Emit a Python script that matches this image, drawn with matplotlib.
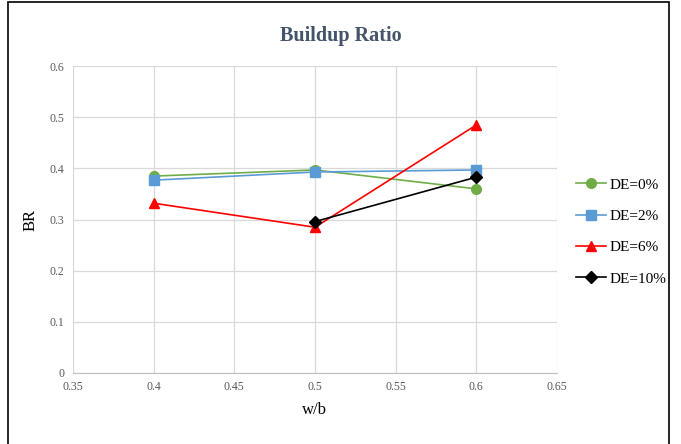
import matplotlib
matplotlib.use("Agg")
import matplotlib.pyplot as plt
from matplotlib.patches import Rectangle

# data
wb = [0.4, 0.5, 0.6]
br_de0 = [0.385, 0.397, 0.360]
br_de2 = [0.377, 0.393, 0.397]
br_de6 = [0.332, 0.285, 0.485]
wb_de10 = [0.5, 0.6]
br_de10 = [0.296, 0.383]

x_ticks = [0.35, 0.4, 0.45, 0.5, 0.55, 0.6, 0.65]
y_ticks = [0, 0.1, 0.2, 0.3, 0.4, 0.5, 0.6]

plt.rcParams["font.family"] = ["Liberation Serif", "DejaVu Serif"]

fig = plt.figure(figsize=(6.81, 4.44), dpi=100)
ax = fig.add_axes([0.107, 0.160, 0.711, 0.691])

series = [
    (wb, br_de0, "#70AD47", "o", 7, "DE=0%"),
    (wb, br_de2, "#5B9BD5", "s", 7, "DE=2%"),
    (wb, br_de6, "#FF0000", "^", 7, "DE=6%"),
    (wb_de10, br_de10, "#000000", "D", 6, "DE=10%"),
]
for xs, ys, c, m, ms, lab in series:
    ax.plot(xs, ys, color=c, marker=m, markersize=ms, linewidth=1.2,
            label=lab, zorder=3)

ax.set_xlim(0.35, 0.65)
ax.set_ylim(0, 0.6)
ax.set_xticks(x_ticks)
ax.set_xticklabels([f"{v:g}" for v in x_ticks])
ax.set_yticks(y_ticks)
ax.set_yticklabels([f"{v:g}" for v in y_ticks])
ax.grid(color="#D9D9D9", linewidth=0.9, zorder=0)
for s in ["top", "right", "left"]:
    ax.spines[s].set_visible(False)
ax.spines["bottom"].set_color("#BFBFBF")
ax.tick_params(length=0, labelsize=8.5, colors="#595959", pad=6)

ax.set_xlabel("w/b", fontsize=12, labelpad=6)
ax.set_ylabel("BR", fontsize=12, labelpad=8)
fig.text(0.5, 0.92, "Buildup Ratio", ha="center", va="center",
         fontsize=14.5, fontweight="bold", color="#44546A")

ax.legend(loc="center left", bbox_to_anchor=(1.01, 0.46), frameon=False,
          fontsize=11, handlelength=2.0, labelspacing=1.15, handletextpad=0.2)

fig.patches.append(Rectangle((0.012, -0.01), 0.971, 1.005, transform=fig.transFigure,
                             fill=False, edgecolor="black", linewidth=1.2))

fig.savefig("out.png", dpi=100)
